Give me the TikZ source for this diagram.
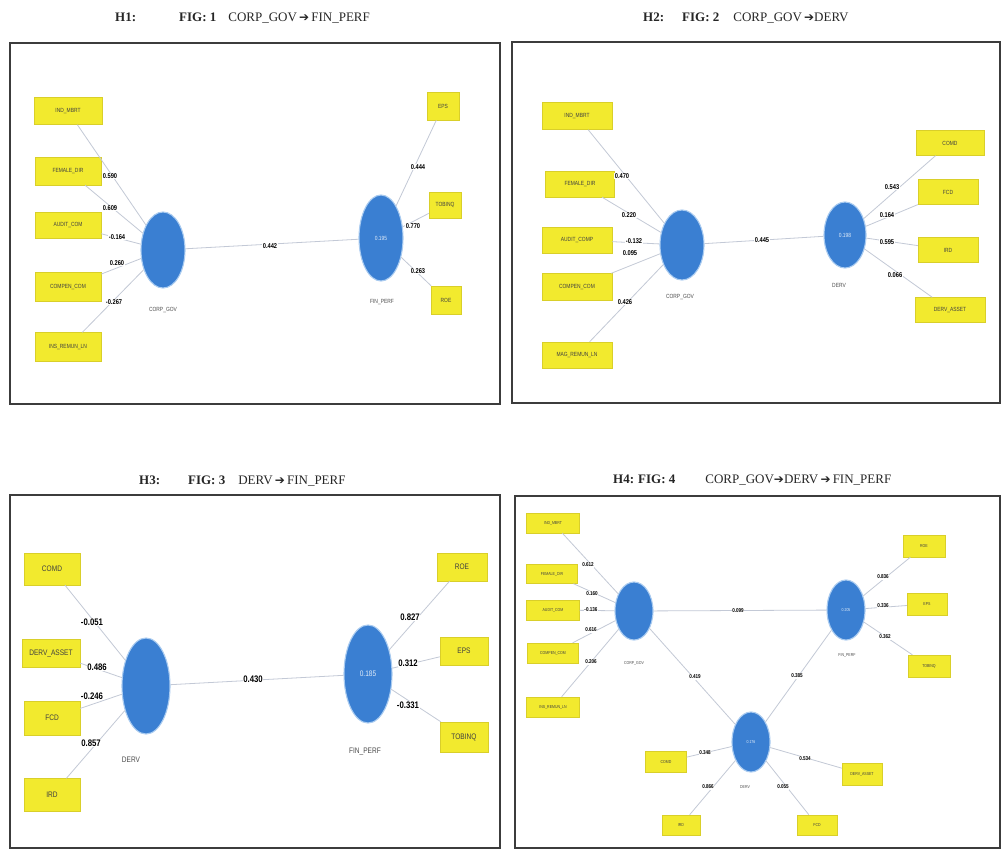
\documentclass[tikz,border=0pt]{standalone}
\usepackage{fontspec}
\setmainfont{Liberation Serif}
\newfontfamily\nfont{Liberation Sans}[FakeStretch=0.82]
\newfontfamily\dejavu{DejaVu Sans}
\usetikzlibrary{shapes.geometric}

\definecolor{indyellow}{HTML}{F2EA2E}
\definecolor{indedge}{HTML}{D9CF2A}
\definecolor{lvblue}{HTML}{3A7FD2}
\definecolor{lvglow}{HTML}{A9CBF0}
\definecolor{linkgray}{HTML}{C3C9D6}
\definecolor{framegray}{HTML}{3C3C3C}

\newcommand{\arr}{{\dejavu\bfseries\fontsize{12}{13}\selectfont ➔}}

\tikzset{
  ind/.style={rectangle, draw=indedge, fill=indyellow, line width=0.4pt,
    inner sep=0pt, text=black!75},
  lv/.style={ellipse, fill=lvblue, draw=lvglow, line width=1.1pt,
    inner sep=0pt, text=white!85!lvblue},
  lvname/.style={text=black!70, inner sep=0pt},
  ld/.style={fill=white, inner sep=0.6pt, text=black},
  link/.style={draw=linkgray, line width=0.8pt},
  frame/.style={draw=framegray, line width=1.3pt},
  ttl/.style={anchor=west, inner sep=0pt, text=black!85, font=\fontsize{13}{15}\selectfont},
  s1/.style={font=\nfont\fontsize{6}{7}\selectfont},
  s1b/.style={font=\nfont\bfseries\fontsize{7}{8}\selectfont},
  s3/.style={font=\nfont\fontsize{8}{9}\selectfont},
  s3b/.style={font=\nfont\bfseries\fontsize{9.5}{10}\selectfont},
  s4/.style={font=\nfont\fontsize{4.3}{5}\selectfont},
  s4b/.style={font=\nfont\bfseries\fontsize{5.6}{6}\selectfont},
}

\begin{document}
\begin{tikzpicture}[x=1pt, y=-1pt]
\useasboundingbox (0,0) rectangle (1001,849);
\fill[white] (0,0) rectangle (1001,849);

% ---------------- titles ----------------
\node[ttl] (t1) at (115,18) {\textbf{H1:}\hspace{43pt}\textbf{FIG: 1}\hspace{12pt}CORP\_GOV\,\arr\,FIN\_PERF};
\node[ttl] (t2) at (643,18) {\textbf{H2:}\hspace{18pt}\textbf{FIG: 2}\hspace{14pt}CORP\_GOV\,\arr DERV};
\node[ttl] (t3) at (139,481) {\textbf{H3:}\hspace{28pt}\textbf{FIG: 3}\hspace{13pt}DERV\,\arr\,FIN\_PERF};
\node[ttl] (t4) at (613,480) {\textbf{H4:}\hspace{4pt}\textbf{FIG: 4}\hspace{30pt}CORP\_GOV\arr DERV\,\arr\,FIN\_PERF};

% ---------------- frames ----------------
\draw[frame] (10,43) rectangle (500,404);
\draw[framegray, line width=2.4pt] (10,43) -- (500,43);
\draw[frame] (512,42) rectangle (1000,403);
\draw[framegray, line width=2.4pt] (512,42) -- (1000,42);
\draw[frame] (10,495) rectangle (500,848);
\draw[framegray, line width=2.4pt] (10,495) -- (500,495);
\draw[frame] (515,496) rectangle (1000,848);
\draw[framegray, line width=2.4pt] (515,496) -- (1000,496);

% ================= panel 1 =================
\begin{scope}[every node/.append style={s1}]
\node[ind, minimum width=68, minimum height=27] (a11) at (68,111) {IND\_MBRT};
\node[ind, minimum width=66, minimum height=28] (a12) at (68,171) {FEMALE\_DIR};
\node[ind, minimum width=66, minimum height=26] (a13) at (68,225) {AUDIT\_COM};
\node[ind, minimum width=66, minimum height=29] (a14) at (68,287) {COMPEN\_COM};
\node[ind, minimum width=66, minimum height=29] (a15) at (68,347) {INS\_REMUN\_LN};
\node[ind, minimum width=32, minimum height=28] (e11) at (443,106) {EPS};
\node[ind, minimum width=32, minimum height=26] (e12) at (445,205) {TOBINQ};
\node[ind, minimum width=30, minimum height=28] (e13) at (446,300) {ROE};
\node[lv, minimum width=44, minimum height=76] (c1) at (163,250) {};
\node[lv, minimum width=44, minimum height=86] (f1) at (381,238) {0.195};
\node[lvname] (c1n) at (163,310) {CORP\_GOV};
\node[lvname] (f1n) at (382,302) {FIN\_PERF};
\end{scope}
\foreach \i in {a11,a12,a13,a14,a15} \draw[link] (\i) -- (c1);
\foreach \i in {e11,e12,e13} \draw[link] (f1) -- (\i);
\draw[link] (c1) -- (f1);
\begin{scope}[every node/.append style={ld, s1b}]
\node (l11) at (110,176) {0.590};
\node (l12) at (110,208) {0.609};
\node (l13) at (117,237) {-0.164};
\node (l14) at (117,263) {0.260};
\node (l15) at (114,302) {-0.267};
\node (l16) at (418,167) {0.444};
\node (l17) at (413,226) {0.770};
\node (l18) at (418,271) {0.263};
\node (p1) at (270,246) {0.442};
\end{scope}

% ================= panel 2 =================
\begin{scope}[every node/.append style={s1}]
\node[ind, minimum width=70, minimum height=27] (a21) at (577,116) {IND\_MBRT};
\node[ind, minimum width=69, minimum height=26] (a22) at (580,184) {FEMALE\_DIR};
\node[ind, minimum width=70, minimum height=26] (a23) at (577,240) {AUDIT\_COMP};
\node[ind, minimum width=70, minimum height=27] (a24) at (577,287) {COMPEN\_COM};
\node[ind, minimum width=70, minimum height=26] (a25) at (577,355) {MAG\_REMUN\_LN};
\node[ind, minimum width=68, minimum height=25] (e21) at (950,143) {COMD};
\node[ind, minimum width=60, minimum height=25] (e22) at (948,192) {FCD};
\node[ind, minimum width=60, minimum height=25] (e23) at (948,250) {IRD};
\node[ind, minimum width=70, minimum height=25] (e24) at (950,310) {DERV\_ASSET};
\node[lv, minimum width=44, minimum height=70] (c2) at (682,245) {};
\node[lv, minimum width=42, minimum height=66] (d2) at (845,235) {0.198};
\node[lvname] (c2n) at (680,297) {CORP\_GOV};
\node[lvname] (d2n) at (839,285) {DERV};
\end{scope}
\foreach \i in {a21,a22,a23,a24,a25} \draw[link] (\i) -- (c2);
\foreach \i in {e21,e22,e23,e24} \draw[link] (d2) -- (\i);
\draw[link] (c2) -- (d2);
\begin{scope}[every node/.append style={ld, s1b}]
\node (l21) at (622,176) {0.470};
\node (l22) at (629,215) {0.220};
\node (l23) at (634,241) {-0.132};
\node (l24) at (630,253) {0.095};
\node (l25) at (625,302) {0.426};
\node (l26) at (892,187) {0.543};
\node (l27) at (887,215) {0.164};
\node (l28) at (887,242) {0.595};
\node (l29) at (895,275) {0.066};
\node (p2) at (762,240) {0.445};
\end{scope}

% ================= panel 3 =================
\begin{scope}[every node/.append style={s3}]
\node[ind, minimum width=56, minimum height=32] (a31) at (52,569) {COMD};
\node[ind, minimum width=58, minimum height=28] (a32) at (51,653) {DERV\_ASSET};
\node[ind, minimum width=56, minimum height=34] (a33) at (52,718) {FCD};
\node[ind, minimum width=56, minimum height=33] (a34) at (52,795) {IRD};
\node[ind, minimum width=50, minimum height=28] (e31) at (462,567) {ROE};
\node[ind, minimum width=48, minimum height=28] (e32) at (464,651) {EPS};
\node[ind, minimum width=48, minimum height=30] (e33) at (464,737) {TOBINQ};
\node[lv, minimum width=48, minimum height=96] (d3) at (146,686) {};
\node[lv, minimum width=48, minimum height=98] (f3) at (368,674) {0.185};
\node[lvname] (d3n) at (131,760) {DERV};
\node[lvname] (f3n) at (365,752) {FIN\_PERF};
\end{scope}
\foreach \i in {a31,a32,a33,a34} \draw[link] (\i) -- (d3);
\foreach \i in {e31,e32,e33} \draw[link] (f3) -- (\i);
\draw[link] (d3) -- (f3);
\begin{scope}[every node/.append style={ld, s3b}]
\node (l31) at (92,622) {-0.051};
\node (l32) at (97,667) {0.486};
\node (l33) at (92,696) {-0.246};
\node (l34) at (91,743) {0.857};
\node (l35) at (410,617) {0.827};
\node (l36) at (408,663) {0.312};
\node (l37) at (408,705) {-0.331};
\node (p3) at (253,679) {0.430};
\end{scope}

% ================= panel 4 =================
\begin{scope}[every node/.append style={s4}]
\node[ind, minimum width=53, minimum height=20] (a41) at (553,523) {IND\_MBRT};
\node[ind, minimum width=51, minimum height=19] (a42) at (552,574) {FEMALE\_DIR};
\node[ind, minimum width=53, minimum height=20] (a43) at (553,610) {AUDIT\_COM};
\node[ind, minimum width=51, minimum height=20] (a44) at (553,653) {COMPEN\_COM};
\node[ind, minimum width=53, minimum height=20] (a45) at (553,707) {INS\_REMUN\_LN};
\node[ind, minimum width=42, minimum height=22] (e41) at (924,546) {ROE};
\node[ind, minimum width=40, minimum height=22] (e42) at (927,604) {EPS};
\node[ind, minimum width=42, minimum height=22] (e43) at (929,666) {TOBINQ};
\node[ind, minimum width=41, minimum height=21] (g41) at (666,762) {COMD};
\node[ind, minimum width=40, minimum height=22] (g42) at (862,774) {DERV\_ASSET};
\node[ind, minimum width=38, minimum height=20] (g43) at (681,825) {IRD};
\node[ind, minimum width=40, minimum height=20] (g44) at (817,825) {FCD};
\node[lv, minimum width=38, minimum height=58] (c4) at (634,611) {};
\node[lv, minimum width=38, minimum height=60] (f4) at (846,610) {0.205};
\node[lv, minimum width=38, minimum height=60] (d4) at (751,742) {0.176};
\node[lvname] (c4n) at (634,663) {CORP\_GOV};
\node[lvname] (f4n) at (847,655) {FIN\_PERF};
\node[lvname] (d4n) at (745,787) {DERV};
\end{scope}
\foreach \i in {a41,a42,a43,a44,a45} \draw[link] (\i) -- (c4);
\foreach \i in {e41,e42,e43} \draw[link] (f4) -- (\i);
\foreach \i in {g41,g42,g43,g44} \draw[link] (d4) -- (\i);
\draw[link] (c4) -- (f4);
\draw[link] (c4) -- (d4);
\draw[link] (d4) -- (f4);
\begin{scope}[every node/.append style={ld, s4b}]
\node (l41) at (588,565) {0.612};
\node (l42) at (592,594) {0.160};
\node (l43) at (591,610) {-0.136};
\node (l44) at (591,630) {0.616};
\node (l45) at (591,662) {0.206};
\node (l46) at (883,577) {0.836};
\node (l47) at (883,606) {0.336};
\node (l48) at (885,637) {0.362};
\node (l49) at (705,753) {0.348};
\node (l4a) at (805,759) {0.534};
\node (l4b) at (708,787) {0.866};
\node (l4c) at (783,787) {0.055};
\node (p41) at (738,611) {0.099};
\node (p42) at (695,677) {0.419};
\node (p43) at (797,676) {0.385};
\end{scope}
\end{tikzpicture}
\end{document}
